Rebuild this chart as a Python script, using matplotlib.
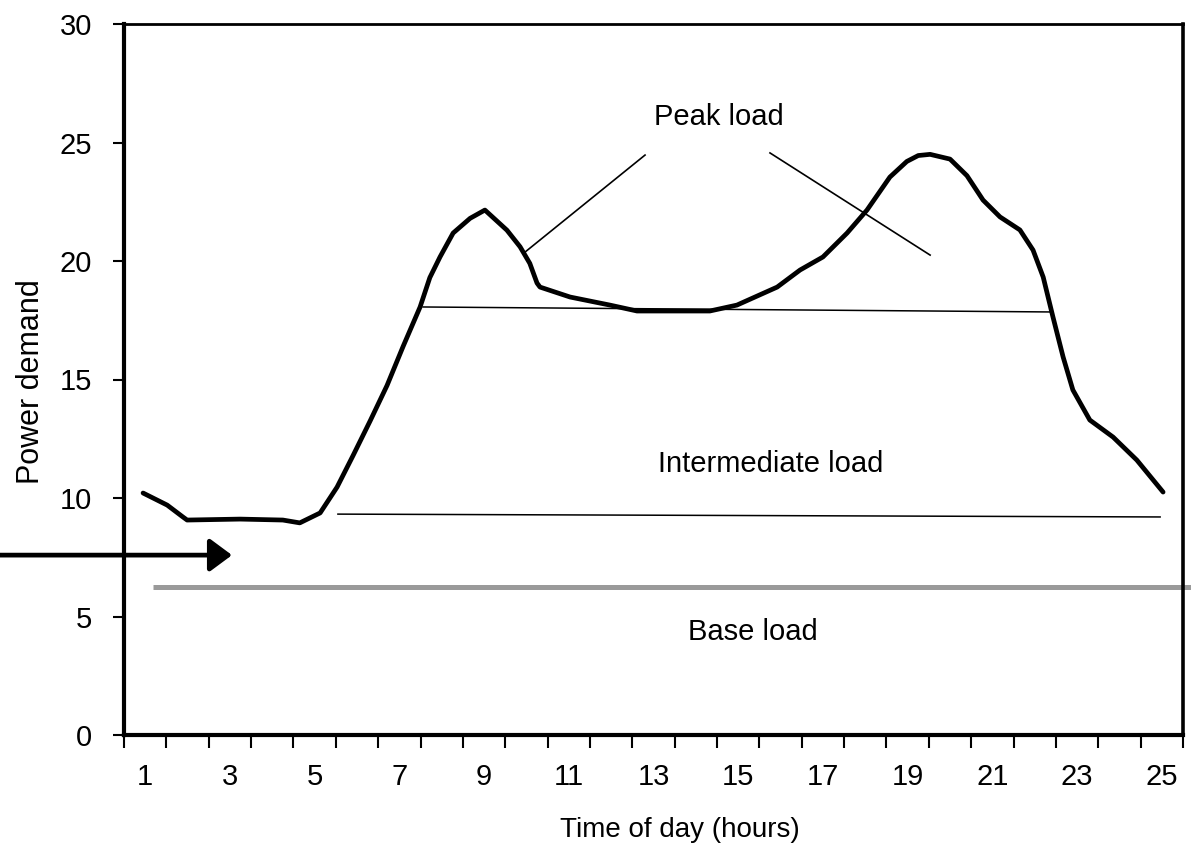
import matplotlib

matplotlib.use("Agg")
import matplotlib.pyplot as plt

plt.rcParams["font.family"] = ["Liberation Sans", "DejaVu Sans"]

# load curve (hour, demand)
hours = [0.95, 1.52, 1.89, 1.99, 3.24, 4.25, 4.65, 5.13, 5.53, 5.91, 6.31, 6.71,
         7.09, 7.49, 7.72, 7.96, 8.27, 8.67, 9.02, 9.54, 9.85, 10.08, 10.25, 10.32,
         11.03, 11.97, 12.61, 13.51, 14.33, 14.97, 15.92, 16.46, 17.0, 17.57, 18.04,
         18.58, 18.98, 19.25, 19.53, 20.0, 20.4, 20.78, 21.18, 21.65, 21.96, 22.2,
         22.43, 22.67, 22.9, 23.3, 23.85, 24.41, 25.03]
demand = [10.21, 9.7, 9.2, 9.07, 9.11, 9.07, 8.95, 9.37, 10.46, 11.8, 13.25, 14.75,
          16.4, 18.06, 19.3, 20.17, 21.18, 21.8, 22.15, 21.3, 20.6, 19.9, 19.07, 18.9,
          18.48, 18.14, 17.89, 17.89, 17.89, 18.14, 18.9, 19.62, 20.17, 21.18, 22.15,
          23.54, 24.2, 24.45, 24.5, 24.3, 23.6, 22.57, 21.86, 21.31, 20.46, 19.32,
          17.64, 15.95, 14.56, 13.29, 12.57, 11.6, 10.25]

# band boundaries and pointer lines
upper_x, upper_y = [7.56, 22.36], [18.06, 17.85]
lower_x, lower_y = [5.55, 24.96], [9.32, 9.2]
base_x, base_y = [1.18, 25.69], [6.24, 6.24]
peak_left_x, peak_left_y = [9.97, 12.8], [20.38, 24.47]
peak_right_x, peak_right_y = [15.75, 19.53], [24.56, 20.25]
arrow_x, arrow_y = [-2.45, 3.05], 7.59

x_labels = list(range(1, 26, 2))
y_ticks = [0, 5, 10, 15, 20, 25, 30]

fig = plt.figure(figsize=(11.91, 8.65), dpi=100)
ax = fig.add_axes([124 / 1191, 130 / 865, 1059 / 1191, 711 / 865])

ax.plot(hours, demand, color="black", lw=3.4, solid_joinstyle="round",
        solid_capstyle="round", zorder=4)
ax.plot(upper_x, upper_y, color="black", lw=1.1)
ax.plot(lower_x, lower_y, color="black", lw=1.1)
ax.plot(base_x, base_y, color="#9a9a9a", lw=3.6, clip_on=False, solid_capstyle="butt")
ax.plot(peak_left_x, peak_left_y, color="black", lw=1.2)
ax.plot(peak_right_x, peak_right_y, color="black", lw=1.2)

ax.annotate("", xy=(arrow_x[1], arrow_y), xytext=(arrow_x[0], arrow_y),
            arrowprops=dict(arrowstyle="-|>,head_length=1.35,head_width=1.0",
                            lw=3.4, color="black", shrinkA=0, shrinkB=0,
                            mutation_scale=10),
            annotation_clip=False, zorder=5)

ax.text(14.55, 25.74, "Peak load", fontsize=21, ha="center", va="baseline")
ax.text(15.77, 11.1, "Intermediate load", fontsize=21, ha="center", va="baseline")
ax.text(15.35, 4.01, "Base load", fontsize=21, ha="center", va="baseline")

ax.set_xlim(0.5, 25.5)
ax.set_ylim(0, 30)

# category-style axis: ticks on the slot boundaries, labels in the middle
ax.set_xticks([k + 0.5 for k in range(0, 26)])
ax.set_xticklabels([])
ax.set_xticks(x_labels, minor=True)
ax.set_xticklabels([str(v) for v in x_labels], minor=True, fontsize=21)
ax.tick_params(axis="x", which="major", direction="out", length=9, width=1.5)
ax.tick_params(axis="x", which="minor", length=0, pad=20)

ax.set_yticks(y_ticks)
ax.set_yticklabels([str(v) for v in y_ticks], fontsize=21)
ax.tick_params(axis="y", direction="out", length=8, width=1.5, pad=15)

for side, w in [("left", 3.0), ("bottom", 3.0), ("top", 2.0), ("right", 2.6)]:
    ax.spines[side].set_linewidth(w)
    ax.spines[side].set_color("black")

fig.text(680 / 1191, 1 - 830 / 865, "Time of day (hours)", fontsize=20,
         ha="center", va="center")
fig.text(31 / 1191, 1 - 382 / 865, "Power demand", fontsize=22, rotation=90,
         ha="center", va="center")

fig.savefig("out.png", dpi=100, facecolor="white")
